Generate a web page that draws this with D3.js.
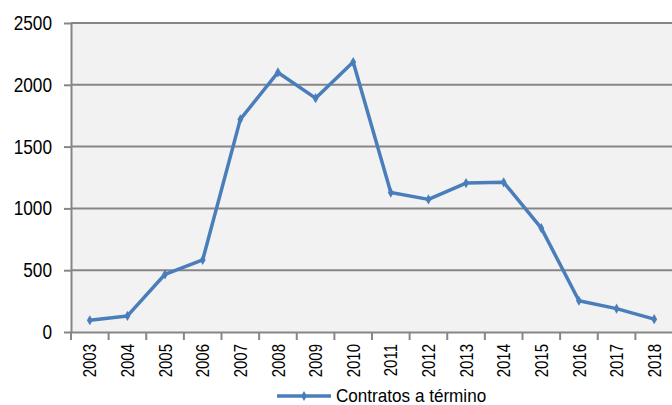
<!DOCTYPE html>
<html>
<head>
<meta charset="utf-8">
<script src="https://cdn.jsdelivr.net/npm/d3@7"></script>
<style>
  body { margin: 0; background: #fff; }
  svg { display: block; font-family: "Liberation Sans", Arial, sans-serif; }
</style>
</head>
<body>
<svg id="chart" width="672" height="405"></svg>
<script>
const years = ['2003','2004','2005','2006','2007','2008','2009','2010',
               '2011','2012','2013','2014','2015','2016','2017','2018'];
const contratos = [95, 130, 467, 583, 1720, 2100, 1892, 2184,
                   1128, 1073, 1205, 1211, 840, 253, 189, 104];
const yTicks = [0, 500, 1000, 1500, 2000, 2500];
const seriesName = 'Contratos a término';

const svg = d3.select('#chart');
const plot = { left: 71, right: 673, top: 23, bottom: 332 };
const lineColor = '#4a7ebb';
const font = '"Liberation Sans", Arial, sans-serif';

// no narrow font installed: squeeze glyphs horizontally to mimic Arial Narrow
const narrow = (sel, k) => sel.each(function () {
  const w = this.getComputedTextLength();
  d3.select(this).attr('textLength', w * k).attr('lengthAdjust', 'spacingAndGlyphs');
});

const x = d3.scaleBand().domain(years).range([plot.left, plot.right]);
const y = d3.scaleLinear().domain([0, 2500]).range([plot.bottom, plot.top]);

// plot area
svg.append('rect')
  .attr('x', plot.left).attr('y', plot.top)
  .attr('width', plot.right - plot.left).attr('height', plot.bottom - plot.top)
  .attr('fill', '#f2f2f2');

// gridlines
svg.append('g').selectAll('line')
  .data(yTicks.filter(d => d > 0))
  .join('line')
  .attr('x1', plot.left).attr('x2', plot.right)
  .attr('y1', d => y(d)).attr('y2', d => y(d))
  .attr('stroke', '#868686').attr('stroke-width', 2);

// y axis
const yAxis = svg.append('g')
  .attr('transform', `translate(${plot.left},0)`)
  .call(d3.axisLeft(y).tickValues(yTicks).tickFormat(d3.format('d'))
    .tickSize(7).tickPadding(12).tickSizeOuter(0));
yAxis.select('.domain').attr('stroke', '#868686').attr('stroke-width', 2);
yAxis.selectAll('.tick line').attr('stroke', '#868686').attr('stroke-width', 2);
yAxis.selectAll('.tick text').attr('font-size', 20.5).attr('fill', '#000')
  .attr('font-family', font)
  .call(narrow, 0.84);

// x axis (ticks at category boundaries)
const xAxis = svg.append('g')
  .attr('transform', `translate(0,${plot.bottom})`)
  .call(d3.axisBottom(x).tickSize(0).tickPadding(0).tickSizeOuter(0));
xAxis.select('.domain').attr('stroke', '#868686').attr('stroke-width', 2);
xAxis.selectAll('.tick text')
  .attr('font-size', 18.5).attr('fill', '#000')
  .attr('font-family', font)
  .attr('text-anchor', 'end')
  .attr('x', 0).attr('y', 0)
  .attr('dy', '0.36em')
  .attr('transform', 'translate(0,12) rotate(-90)')
  .call(narrow, 0.81);
xAxis.append('g').selectAll('line')
  .data(years.map(d => x(d)).concat([plot.right]))
  .join('line')
  .attr('x1', d => d).attr('x2', d => d)
  .attr('y1', 0).attr('y2', 8)
  .attr('stroke', '#868686').attr('stroke-width', 2);

// series line
const line = d3.line()
  .x((d, i) => x(years[i]) + x.bandwidth() / 2)
  .y(d => y(d));

svg.append('path')
  .datum(contratos)
  .attr('d', line)
  .attr('fill', 'none')
  .attr('stroke', lineColor)
  .attr('stroke-width', 3.5)
  .attr('stroke-linejoin', 'round');

const diamond = d3.symbol().type(d3.symbolDiamond).size(30);
svg.append('g').selectAll('path')
  .data(contratos)
  .join('path')
  .attr('d', diamond)
  .attr('transform', (d, i) => `translate(${x(years[i]) + x.bandwidth() / 2},${y(d)})`)
  .attr('fill', lineColor);

// legend
const lg = svg.append('g').attr('transform', 'translate(277,396)');
lg.append('line').attr('x1', 0).attr('x2', 54).attr('y1', 0).attr('y2', 0)
  .attr('stroke', lineColor).attr('stroke-width', 3.5);
lg.append('path').attr('d', diamond).attr('transform', 'translate(27,0)').attr('fill', lineColor);
lg.append('text').attr('x', 59).attr('y', 6)
  .attr('font-size', 19).attr('fill', '#000')
  .attr('font-family', font)
  .text(seriesName)
  .call(narrow, 0.9);
</script>
</body>
</html>
